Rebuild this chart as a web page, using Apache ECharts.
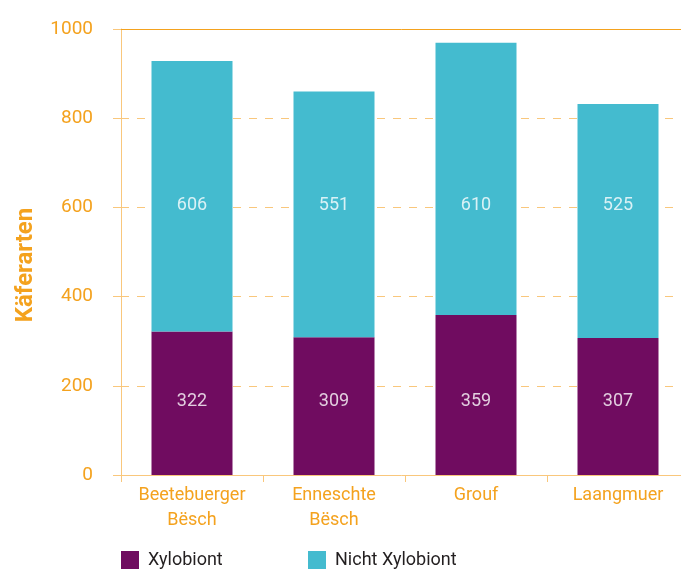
<!DOCTYPE html>
<html><head><meta charset="utf-8">
<script src="https://cdn.jsdelivr.net/npm/echarts@6/dist/echarts.min.js"></script>
<style>html,body{margin:0;padding:0;background:#fff}#c{width:681px;height:571px}</style>
</head><body><div id="c"></div>
<script>
const categories = ['Beetebuerger\nBësch', 'Enneschte\nBësch', 'Grouf', 'Laangmuer'];
const xylobiont = [322, 309, 359, 307];
const nichtXylobiont = [606, 551, 610, 525];
const seriesNames = ['Xylobiont', 'Nicht Xylobiont'];
const yTicks = [0, 200, 400, 600, 800, 1000];
const axisTitle = 'Käferarten';

const PURPLE = '#700c60', CYAN = '#44bbcf', ORANGE = '#f4a21e', LIGHT = '#f9c77c';
const FONT = 'Roboto, "Liberation Sans", Arial, sans-serif';
// fixed label levels (value units) where the reference prints the segment values
const LABEL_LEVEL_LOW = 164, LABEL_LEVEL_HIGH = 605;

const chart = echarts.init(document.getElementById('c'), null, {renderer: 'canvas'});
chart.setOption({
  animation: false,
  textStyle: {fontFamily: FONT},
  grid: {left: 121, width: 568, top: 29, bottom: 96, containLabel: false, outerBoundsMode: 'none'},
  legend: [
    {data: [seriesNames[0]], left: 121, top: 551, padding: 0, itemWidth: 18, itemHeight: 18, icon: 'rect',
     textStyle: {fontSize: 18, color: '#231f20', fontFamily: FONT, padding: [5, 0, 0, 4]}},
    {data: [seriesNames[1]], left: 308, top: 551, padding: 0, itemWidth: 18, itemHeight: 18, icon: 'rect',
     textStyle: {fontSize: 18, color: '#231f20', fontFamily: FONT, padding: [5, 0, 0, 4]}}
  ],
  xAxis: [{
    type: 'category', data: categories,
    axisLine: {lineStyle: {color: LIGHT, width: 1}},
    axisTick: {show: true, length: 7, lineStyle: {color: LIGHT}},
    axisLabel: {color: ORANGE, fontSize: 18, lineHeight: 25, margin: 8, fontFamily: FONT, interval: 0}
  }, {
    type: 'category', data: categories, position: 'top',
    axisLine: {lineStyle: {color: ORANGE, width: 1}},
    axisTick: {show: false}, axisLabel: {show: false}
  }],
  yAxis: {
    type: 'value', min: yTicks[0], max: yTicks[yTicks.length - 1], interval: yTicks[1] - yTicks[0],
    axisLine: {show: true, lineStyle: {color: LIGHT}},
    axisTick: {show: true, length: 8, lineStyle: {color: LIGHT}},
    axisLabel: {color: ORANGE, fontSize: 19, margin: 28, fontFamily: FONT, formatter: v => String(v)},
    splitLine: {show: true, lineStyle: {color: LIGHT, type: [8, 8], width: 1}}
  },
  graphic: [{
    type: 'text', x: 26, y: 265, rotation: Math.PI / 2,
    style: {text: axisTitle, fill: ORANGE, font: 'bold 24px ' + FONT, align: 'center', verticalAlign: 'middle'}
  }],
  series: [
    {name: seriesNames[0], type: 'bar', stack: 'a', barWidth: 81, data: xylobiont,
     itemStyle: {color: PURPLE}},
    {name: seriesNames[1], type: 'bar', stack: 'a', barWidth: 81, data: nichtXylobiont,
     itemStyle: {color: CYAN}},
    {type: 'scatter', symbolSize: 0, silent: true, z: 10,
     data: categories.map((c, i) => [i, LABEL_LEVEL_LOW]),
     label: {show: true, position: 'inside', color: '#fff', fontSize: 18, fontFamily: FONT,
       formatter: p => String(xylobiont[p.dataIndex])}},
    {type: 'scatter', symbolSize: 0, silent: true, z: 10,
     data: categories.map((c, i) => [i, LABEL_LEVEL_HIGH]),
     label: {show: true, position: 'inside', color: '#fff', fontSize: 18, fontFamily: FONT,
       formatter: p => String(nichtXylobiont[p.dataIndex])}}
  ]
});
</script></body></html>
